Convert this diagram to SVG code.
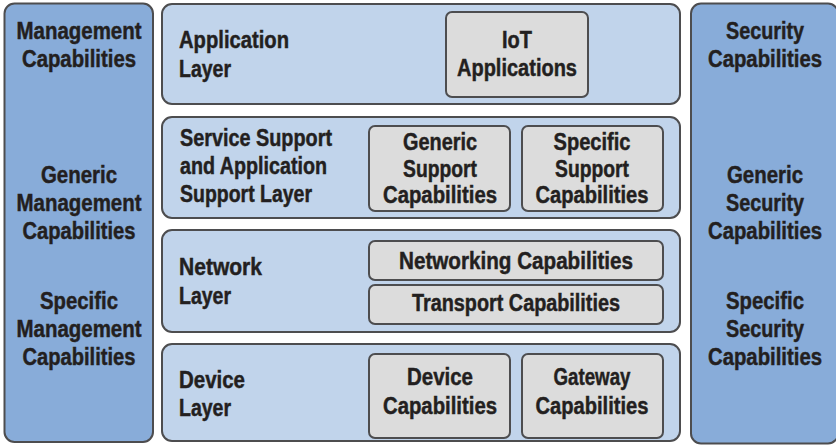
<svg xmlns="http://www.w3.org/2000/svg" width="836" height="445" viewBox="0 0 836 445">
<style>
.col{fill:#88acd9;stroke:#4d4d4f;stroke-width:2}
.layer{fill:#c1d4eb;stroke:#4d4d4f;stroke-width:2}
.box{fill:#dcdcdc;stroke:#4d4d4f;stroke-width:2}
text{font-family:"Liberation Sans",Arial,sans-serif;font-weight:bold;font-size:23px;fill:#231f20;stroke:#231f20;stroke-width:0.45}
.c{text-anchor:middle}
</style>
<rect width="836" height="445" fill="#ffffff"/>
<g id="management">
<rect class="col" x="4.5" y="3.5" width="148.5" height="438.5" rx="10"/>
<text class="c" x="79" y="39" textLength="125" lengthAdjust="spacingAndGlyphs">Management</text>
<text class="c" x="79" y="67" textLength="114" lengthAdjust="spacingAndGlyphs">Capabilities</text>
<text class="c" x="79" y="183" textLength="76" lengthAdjust="spacingAndGlyphs">Generic</text>
<text class="c" x="79" y="211" textLength="125" lengthAdjust="spacingAndGlyphs">Management</text>
<text class="c" x="79" y="239" textLength="113" lengthAdjust="spacingAndGlyphs">Capabilities</text>
<text class="c" x="79" y="309" textLength="78" lengthAdjust="spacingAndGlyphs">Specific</text>
<text class="c" x="79" y="337" textLength="125" lengthAdjust="spacingAndGlyphs">Management</text>
<text class="c" x="79" y="365" textLength="113" lengthAdjust="spacingAndGlyphs">Capabilities</text>
</g>
<g id="security">
<rect class="col" x="691" y="3.5" width="147" height="440" rx="10"/>
<text class="c" x="765" y="39" textLength="78" lengthAdjust="spacingAndGlyphs">Security</text>
<text class="c" x="765" y="67" textLength="114" lengthAdjust="spacingAndGlyphs">Capabilities</text>
<text class="c" x="765" y="183" textLength="76" lengthAdjust="spacingAndGlyphs">Generic</text>
<text class="c" x="765" y="211" textLength="78" lengthAdjust="spacingAndGlyphs">Security</text>
<text class="c" x="765" y="239" textLength="114" lengthAdjust="spacingAndGlyphs">Capabilities</text>
<text class="c" x="765" y="309" textLength="78" lengthAdjust="spacingAndGlyphs">Specific</text>
<text class="c" x="765" y="337" textLength="78" lengthAdjust="spacingAndGlyphs">Security</text>
<text class="c" x="765" y="365" textLength="114" lengthAdjust="spacingAndGlyphs">Capabilities</text>
</g>
<g id="application-layer">
<rect class="layer" x="162" y="4" width="518" height="100" rx="10"/>
<text x="179" y="48" textLength="110" lengthAdjust="spacingAndGlyphs">Application</text>
<text x="179" y="77" textLength="52" lengthAdjust="spacingAndGlyphs">Layer</text>
</g>
<g id="iot-applications">
<rect class="box" x="446" y="12" width="142" height="85" rx="6"/>
<text class="c" x="517" y="48" textLength="30" lengthAdjust="spacingAndGlyphs">IoT</text>
<text class="c" x="517" y="76" textLength="120" lengthAdjust="spacingAndGlyphs">Applications</text>
</g>
<g id="service-support-layer">
<rect class="layer" x="162" y="117" width="518" height="101" rx="10"/>
<text x="180" y="146" textLength="152" lengthAdjust="spacingAndGlyphs">Service Support</text>
<text x="180" y="174" textLength="147" lengthAdjust="spacingAndGlyphs">and Application</text>
<text x="180" y="202" textLength="132" lengthAdjust="spacingAndGlyphs">Support Layer</text>
</g>
<g id="generic-support">
<rect class="box" x="369" y="126" width="141" height="85" rx="6"/>
<text class="c" x="440" y="150" textLength="74" lengthAdjust="spacingAndGlyphs">Generic</text>
<text class="c" x="440" y="177" textLength="74" lengthAdjust="spacingAndGlyphs">Support</text>
<text class="c" x="440" y="203" textLength="114" lengthAdjust="spacingAndGlyphs">Capabilities</text>
</g>
<g id="specific-support">
<rect class="box" x="522" y="126" width="141" height="85" rx="6"/>
<text class="c" x="592" y="150" textLength="77" lengthAdjust="spacingAndGlyphs">Specific</text>
<text class="c" x="592" y="177" textLength="74" lengthAdjust="spacingAndGlyphs">Support</text>
<text class="c" x="592" y="203" textLength="113" lengthAdjust="spacingAndGlyphs">Capabilities</text>
</g>
<g id="network-layer">
<rect class="layer" x="162" y="230" width="518" height="102" rx="10"/>
<text x="179" y="275" textLength="83" lengthAdjust="spacingAndGlyphs">Network</text>
<text x="179" y="304" textLength="52" lengthAdjust="spacingAndGlyphs">Layer</text>
</g>
<g id="networking-capabilities">
<rect class="box" x="369" y="241" width="294" height="39" rx="6"/>
<text class="c" x="516" y="269" textLength="234" lengthAdjust="spacingAndGlyphs">Networking Capabilities</text>
</g>
<g id="transport-capabilities">
<rect class="box" x="369" y="285" width="294" height="39" rx="6"/>
<text class="c" x="516" y="311" textLength="208" lengthAdjust="spacingAndGlyphs">Transport Capabilities</text>
</g>
<g id="device-layer">
<rect class="layer" x="162" y="344" width="518" height="97" rx="10"/>
<text x="179" y="388" textLength="66" lengthAdjust="spacingAndGlyphs">Device</text>
<text x="179" y="416" textLength="52" lengthAdjust="spacingAndGlyphs">Layer</text>
</g>
<g id="device-capabilities">
<rect class="box" x="369" y="354" width="141" height="84" rx="6"/>
<text class="c" x="440" y="385" textLength="66" lengthAdjust="spacingAndGlyphs">Device</text>
<text class="c" x="440" y="414" textLength="114" lengthAdjust="spacingAndGlyphs">Capabilities</text>
</g>
<g id="gateway-capabilities">
<rect class="box" x="522" y="354" width="141" height="84" rx="6"/>
<text class="c" x="592" y="385" textLength="77" lengthAdjust="spacingAndGlyphs">Gateway</text>
<text class="c" x="592" y="414" textLength="113" lengthAdjust="spacingAndGlyphs">Capabilities</text>
</g>
</svg>
